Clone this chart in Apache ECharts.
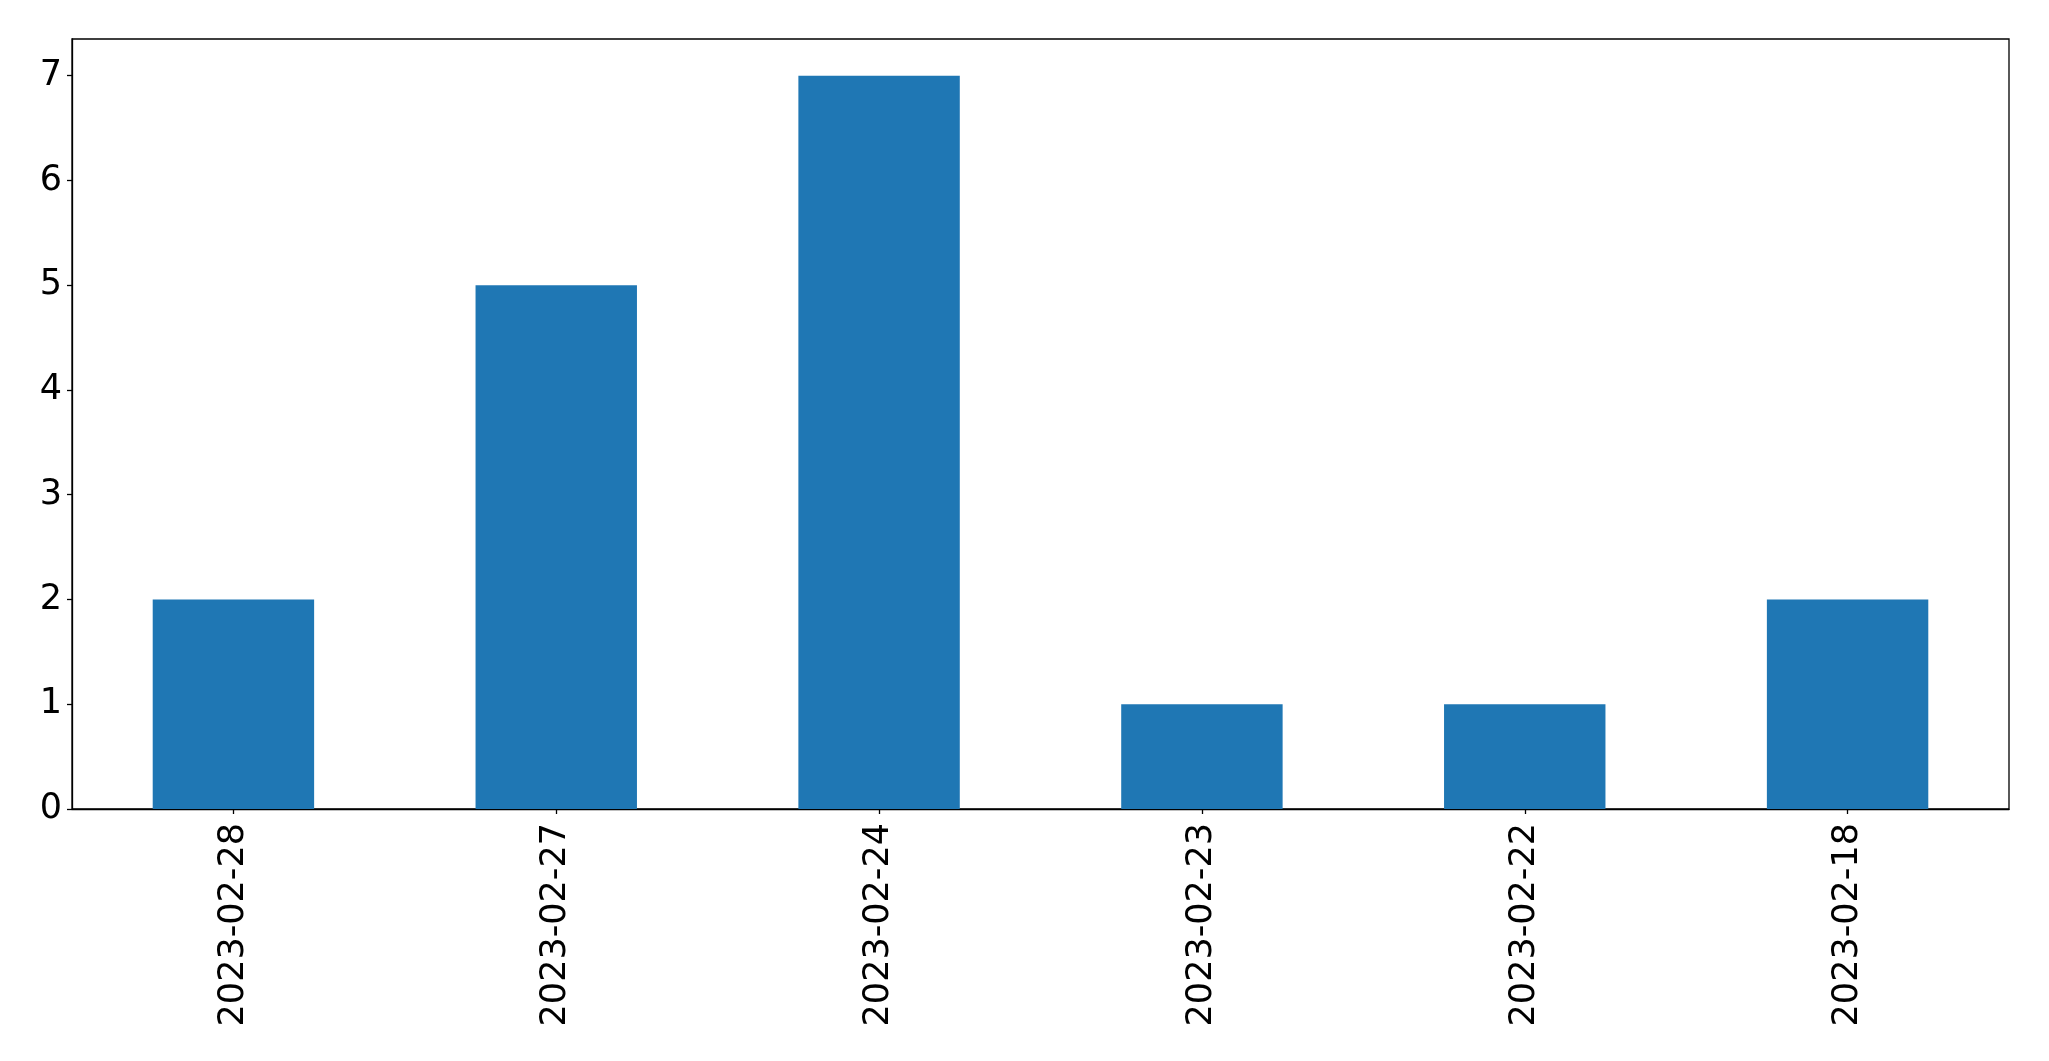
<!DOCTYPE html>
<html>
<head>
<meta charset="utf-8">
<script src="https://cdn.jsdelivr.net/npm/echarts@6/dist/echarts.min.js"></script>
<style>
html,body{margin:0;padding:0;background:#fff;}
#chart{width:2049px;height:1061px;}
</style>
</head>
<body>
<div id="chart"></div>
<script>
const categories = ["2023-02-28", "2023-02-27", "2023-02-24", "2023-02-23", "2023-02-22", "2023-02-18"];
const values = [2, 5, 7, 1, 1, 2];
const yTicks = [0, 1, 2, 3, 4, 5, 6, 7];

const chart = echarts.init(document.getElementById('chart'), null, {renderer: 'canvas'});
const font = 'DejaVu Sans';
chart.setOption({
  animation: false,
  backgroundColor: '#ffffff',
  grid: {
    left: 72, right: 40, top: 39, bottom: 252,
    show: true, borderColor: '#000000', borderWidth: 1.3, backgroundColor: 'transparent'
  },
  xAxis: {
    type: 'category',
    data: categories,
    boundaryGap: true,
    axisLine: {show: true, lineStyle: {color: '#000000', width: 1.3}},
    axisTick: {show: true, alignWithLabel: true, length: 5, lineStyle: {color: '#000000', width: 1.3}},
    axisLabel: {rotate: 90, margin: 14, fontSize: 35, fontFamily: font, color: '#000000', interval: 0},
    splitLine: {show: false}
  },
  yAxis: {
    type: 'value',
    min: 0, max: 7.35, interval: 1,
    axisLine: {show: true, lineStyle: {color: '#000000', width: 1.3}},
    axisTick: {show: true, length: 5, customValues: yTicks, lineStyle: {color: '#000000', width: 1.3}},
    axisLabel: {margin: 10, fontSize: 35, fontFamily: font, color: '#000000', customValues: yTicks},
    splitLine: {show: false}
  },
  series: [{
    type: 'bar',
    data: values,
    barWidth: '50%',
    itemStyle: {color: '#1f77b4'}
  }]
});
</script>
</body>
</html>
